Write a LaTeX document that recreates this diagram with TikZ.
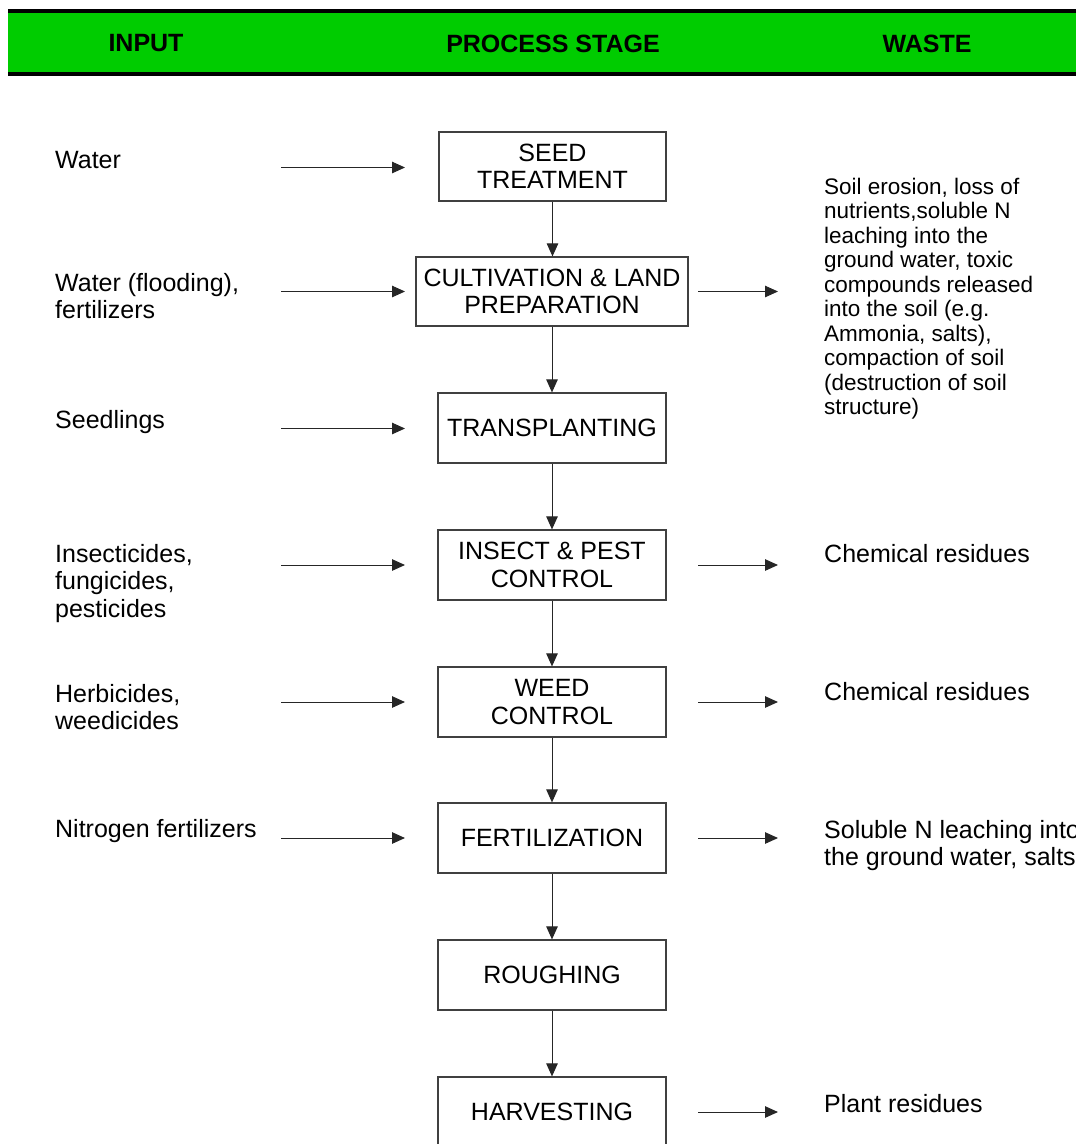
\documentclass[tikz,border=0pt]{standalone}
\usepackage{fontspec}
\setmainfont{Liberation Sans}
\usetikzlibrary{arrows.meta}
\definecolor{hdrgreen}{RGB}{0,204,0}
\begin{document}
\begin{tikzpicture}[x=1pt,y=-1pt,
  stage/.style={draw=black!75, line width=1.2pt, minimum width=228pt, minimum height=70pt, align=center, font=\fontsize{25}{27.5}\selectfont, inner sep=0pt},
  lbl/.style={anchor=base west, align=left, inner sep=0pt, font=\fontsize{25}{27.5}\selectfont},
  flow/.style={draw=black!85, line width=1pt, -{Triangle[length=13pt,width=11.5pt]}},
  hdr/.style={font=\fontsize{25}{27}\selectfont\bfseries, inner sep=0pt}
]
\useasboundingbox (0,0) rectangle (1076,1144);
\clip (0,0) rectangle (1076,1144);
% header band
\fill[hdrgreen] (8,11) rectangle (1076,74);
\draw[line width=3.2pt] (8,11) -- (1076,11);
\draw[line width=3.2pt] (8,74) -- (1076,74);
\node[hdr] (hin) at (146,43.5) {INPUT};
\node[hdr] (hps) at (553,43.5) {PROCESS STAGE};
\node[hdr] (hwa) at (927,43.5) {WASTE};
% stages
\node[stage, minimum width=227pt, minimum height=69pt] (seed) at (552.5,166.5) {SEED\\TREATMENT};
\node[stage, minimum width=272pt, minimum height=69pt] (cult) at (552,291.5) {CULTIVATION \& LAND\\PREPARATION};
\node[stage] (trans) at (552,428) {TRANSPLANTING};
\node[stage] (insect) at (552,565) {INSECT \& PEST\\CONTROL};
\node[stage] (weed) at (552,702) {WEED\\CONTROL};
\node[stage] (fert) at (552,838) {FERTILIZATION};
\node[stage] (rough) at (552,975) {ROUGHING};
\node[stage] (harv) at (552,1112) {HARVESTING};
% vertical flow
\draw[flow] (seed.south) -- (seed.south |- cult.north);
\draw[flow] (cult.south) -- (trans.north);
\draw[flow] (trans.south) -- (insect.north);
\draw[flow] (insect.south) -- (weed.north);
\draw[flow] (weed.south) -- (fert.north);
\draw[flow] (fert.south) -- (rough.north);
\draw[flow] (rough.south) -- (harv.north);
% inputs (base anchor = baseline of the last line)
\node[lbl] (in1) at (55,168) {Water};
\node[lbl] (in2) at (55,318.5) {Water (flooding),\\fertilizers};
\node[lbl] (in3) at (55,428) {Seedlings};
\node[lbl] (in4) at (55,617) {Insecticides,\\fungicides,\\pesticides};
\node[lbl] (in5) at (55,729.5) {Herbicides,\\weedicides};
\node[lbl] (in6) at (55,837) {Nitrogen fertilizers};
\coordinate (a1) at (281,167.5); \coordinate (b1) at (405,167.5);
\coordinate (a2) at (281,291.5); \coordinate (b2) at (405,291.5);
\coordinate (a3) at (281,428.5); \coordinate (b3) at (405,428.5);
\coordinate (a4) at (281,565); \coordinate (b4) at (405,565);
\coordinate (a5) at (281,702); \coordinate (b5) at (405,702);
\coordinate (a6) at (281,838); \coordinate (b6) at (405,838);
\draw[flow] (a1) -- (b1);
\draw[flow] (a2) -- (b2);
\draw[flow] (a3) -- (b3);
\draw[flow] (a4) -- (b4);
\draw[flow] (a5) -- (b5);
\draw[flow] (a6) -- (b6);
% wastes
\coordinate (c2) at (698,291.5); \coordinate (d2) at (778,291.5);
\coordinate (c4) at (698,565); \coordinate (d4) at (778,565);
\coordinate (c5) at (698,702); \coordinate (d5) at (778,702);
\coordinate (c6) at (698,838); \coordinate (d6) at (778,838);
\coordinate (c8) at (698,1112); \coordinate (d8) at (778,1112);
\draw[flow] (c2) -- (d2);
\draw[flow] (c4) -- (d4);
\draw[flow] (c5) -- (d5);
\draw[flow] (c6) -- (d6);
\draw[flow] (c8) -- (d8);
\node[lbl, font=\fontsize{22.5}{24.5}\selectfont] (w2) at (824,414.5) {Soil erosion, loss of\\nutrients,soluble N\\leaching into the\\ground water, toxic\\compounds released\\into the soil (e.g.\\Ammonia, salts),\\compaction of soil\\(destruction of soil\\structure)};
\node[lbl] (w4) at (824,562) {Chemical residues};
\node[lbl] (w5) at (824,700) {Chemical residues};
\node[lbl] (w6) at (824,865.5) {Soluble N leaching into\\the ground water, salts};
\node[lbl] (w8) at (824,1112) {Plant residues};
\end{tikzpicture}
\end{document}
